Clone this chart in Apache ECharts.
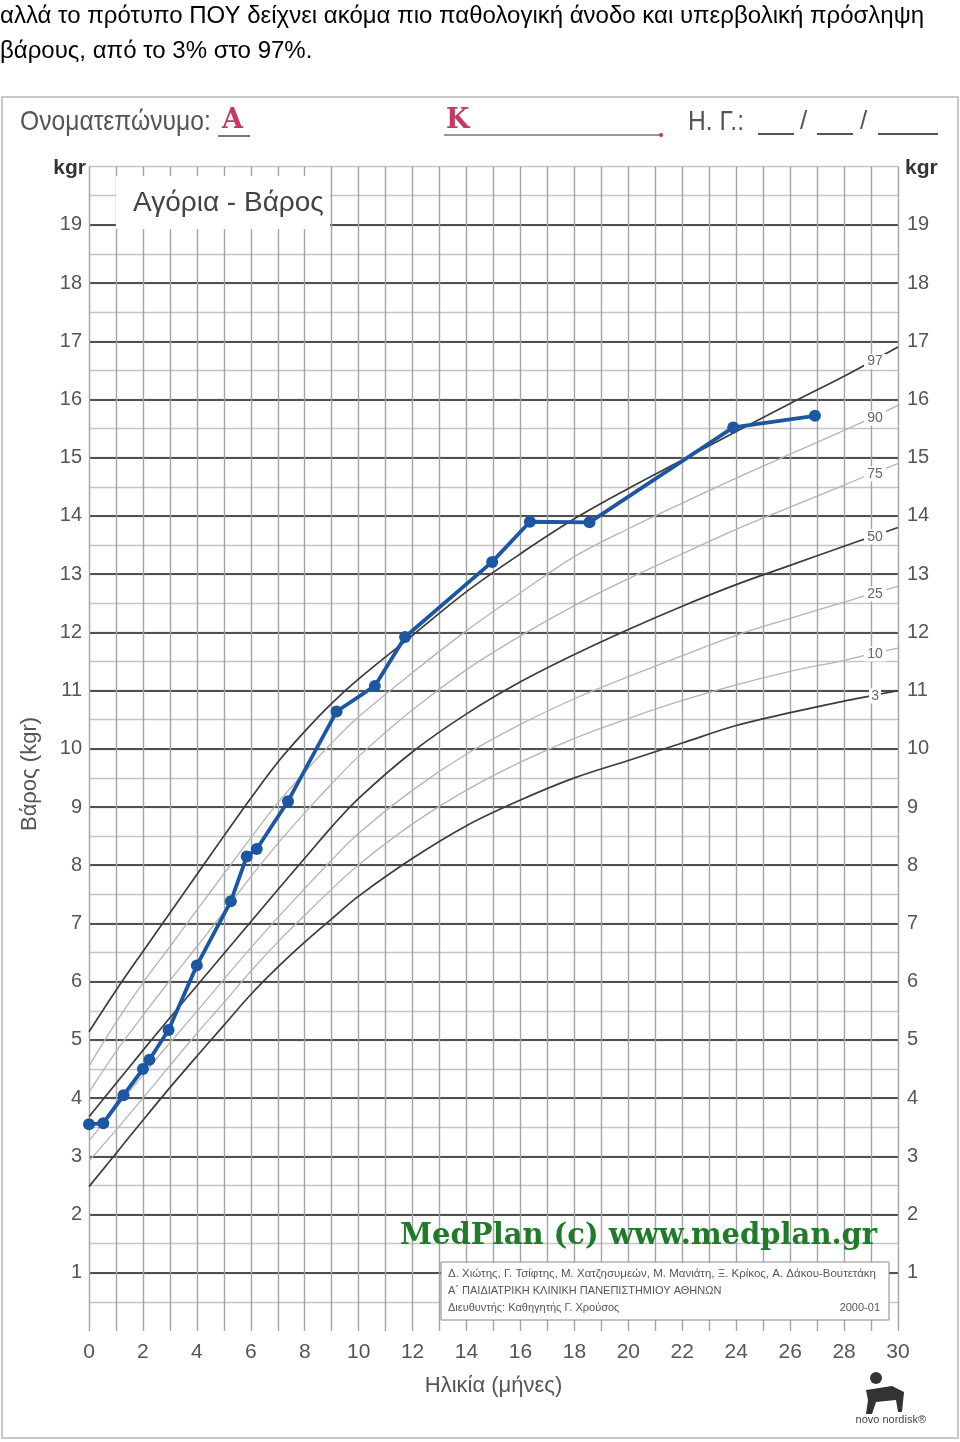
<!DOCTYPE html>
<html><head><meta charset="utf-8">
<script src="https://cdn.jsdelivr.net/npm/echarts@6/dist/echarts.min.js"></script>
<style>html,body{margin:0;padding:0;background:#fff}#c{width:960px;height:1442px}</style>
</head><body><div id="c"></div>
<script>
// ---- data ----
const curveAges = [0,1,2,3,4,5,6,7,8,9,10,12,14,16,18,20,22,24,26,28,29,30];
const p97 = [5.14,5.85,6.52,7.18,7.84,8.5,9.15,9.77,10.3,10.78,11.2,11.95,12.7,13.35,13.95,14.47,14.96,15.45,15.93,16.4,16.65,16.9];
const p90 = [4.55,5.3,5.98,6.6,7.23,7.85,8.47,9.07,9.6,10.1,10.55,11.31,12.03,12.68,13.3,13.78,14.22,14.65,15.06,15.47,15.68,15.9];
const p75 = [4.1,4.8,5.42,6.02,6.6,7.2,7.8,8.37,8.9,9.4,9.87,10.67,11.36,11.94,12.46,12.92,13.35,13.77,14.15,14.53,14.72,14.9];
const p50 = [3.68,4.25,4.82,5.38,5.93,6.48,7.03,7.58,8.12,8.66,9.15,9.95,10.6,11.15,11.62,12.05,12.45,12.82,13.15,13.48,13.64,13.8];
const p25 = [3.27,3.83,4.4,4.95,5.49,6.04,6.58,7.1,7.6,8.09,8.55,9.29,9.91,10.42,10.86,11.24,11.6,11.95,12.24,12.52,12.66,12.79];
const p10 = [2.92,3.45,4.0,4.56,5.11,5.64,6.18,6.68,7.14,7.59,8.01,8.71,9.29,9.77,10.18,10.52,10.83,11.1,11.33,11.52,11.63,11.73];
const p3  = [2.48,3.05,3.62,4.18,4.72,5.25,5.78,6.25,6.68,7.08,7.47,8.12,8.68,9.12,9.5,9.8,10.1,10.4,10.62,10.82,10.91,11.0];
const percentileNames = ['97','90','75','50','25','10','3'];
const labelAge = 29;

const childAges = [0,0.53,1.28,2.0,2.24,2.95,4.0,5.26,5.85,6.22,7.38,9.18,10.6,11.72,14.95,16.35,18.56,23.89,26.92];
const childWeights = [3.55,3.57,4.05,4.5,4.66,5.17,6.28,7.38,8.15,8.28,9.1,10.64,11.08,11.92,13.21,13.9,13.89,15.52,15.72];

const headerText1 = 'αλλά το πρότυπο ΠΟΥ δείχνει ακόμα πιο παθολογική άνοδο και υπερβολική πρόσληψη';
const headerText2 = 'βάρους, από το 3% στο 97%.';

// ---- chart ----
const FF = '"Liberation Sans", Arial, sans-serif';
const chart = echarts.init(document.getElementById('c'), null, {renderer:'canvas'});
const curves = [p97,p90,p75,p50,p25,p10,p3];
const dark = {'97':true,'50':true,'3':true};
const li = curveAges.indexOf(labelAge);

const curveSeries = curves.map((arr, k) => {
  const name = percentileNames[k];
  const isDark = !!dark[name];
  return {
    type:'line', name:'P'+name, xAxisIndex:0, yAxisIndex:1,
    data: curveAges.map((a,i)=>[a, arr[i]]),
    smooth: 0.35, symbol:'none', silent:true, z:3,
    lineStyle:{color: isDark ? '#3c3c3c' : '#b4b4b4', width: isDark ? 1.7 : 1.3},
    markPoint:{
      silent:true, symbol:'rect', symbolSize:[name.length>1?22:12, 15], symbolOffset:[4,0],
      itemStyle:{color:'#fff'},
      label:{show:true, formatter:name, color:'#666', fontSize:14, fontFamily:FF, position:'inside'},
      data:[{coord:[curveAges[li], arr[li]]}]
    }
  };
});

const option = {
  animation:false,
  backgroundColor:'#fff',
  grid:{left:89, right:62, top:166.6, bottom:111, containLabel:false},
  xAxis:[
    {type:'value', min:0, max:30, interval:1, axisLine:{show:false}, axisTick:{show:false}, axisLabel:{show:false},
     splitLine:{show:true, lineStyle:{color:'#a3a3a3', width:1.4}}},
    {type:'value', min:0, max:30, interval:2, position:'bottom', axisLine:{show:false}, axisTick:{show:false},
     splitLine:{show:false},
     axisLabel:{fontSize:21, color:'#555', margin:11, fontFamily:FF},
     name:'Ηλικία (μήνες)', nameLocation:'middle', nameGap:44, nameTextStyle:{fontSize:22, color:'#555', fontFamily:FF}}
  ],
  yAxis:[
    {type:'value', min:0, max:20, interval:0.5, axisLine:{show:false}, axisTick:{show:false}, axisLabel:{show:false},
     splitLine:{show:true, showMinLine:false, lineStyle:{color:'#c4c4c4', width:1.4}}},
    {type:'value', min:0, max:20, interval:1, position:'left', axisLine:{show:false}, axisTick:{show:false},
     splitLine:{show:true, showMinLine:false, showMaxLine:false, lineStyle:{color:'#505050', width:2}},
     axisLabel:{fontSize:20, color:'#555', margin:7, fontFamily:FF, formatter:v=>(v===0||v===20)?'':String(v)}},
    {type:'value', min:0, max:20, interval:1, position:'right', axisLine:{show:false}, axisTick:{show:false},
     splitLine:{show:false},
     axisLabel:{fontSize:20, color:'#555', margin:9, fontFamily:FF, formatter:v=>(v===0||v===20)?'':String(v)}}
  ],
  series: curveSeries.concat([{
    type:'line', name:'Βάρος', xAxisIndex:0, yAxisIndex:1, z:10,
    data: childAges.map((a,i)=>[a, childWeights[i]]),
    symbol:'circle', symbolSize:12, showAllSymbol:true,
    lineStyle:{color:'#1c57a2', width:3.8},
    itemStyle:{color:'#1c57a2'}
  }]),
  graphic:[
    {type:'text', z:100, style:{text:headerText1, x:0, y:16, font:'24px '+FF, fill:'#000', verticalAlign:'middle'}},
    {type:'text', z:100, style:{text:headerText2, x:0, y:51, font:'24px '+FF, fill:'#000', verticalAlign:'middle'}},
    {type:'rect', z:100, shape:{x:2, y:97, width:956, height:1341}, style:{fill:'none', stroke:'#c8c8c8', lineWidth:2}},
    {type:'text', z:100, x:20, y:122, scaleX:0.88, style:{text:'Ονοματεπώνυμο:', x:0, y:0, font:'28px '+FF, fill:'#555', verticalAlign:'middle'}},
    {type:'text', z:100, style:{text:'A', x:222, y:121, font:'bold 27px "DejaVu Serif", serif', fill:'#c43a5e', verticalAlign:'middle'}},
    {type:'line', z:100, shape:{x1:218, y1:136, x2:250, y2:136}, style:{stroke:'#777', lineWidth:2}},
    {type:'text', z:100, style:{text:'K', x:446, y:121, font:'bold 27px "DejaVu Serif", serif', fill:'#c43a5e', verticalAlign:'middle'}},
    {type:'line', z:100, shape:{x1:444, y1:135, x2:662, y2:135}, style:{stroke:'#777', lineWidth:1.5}},
    {type:'circle', z:100, shape:{cx:661, cy:135, r:2}, style:{fill:'#d03050'}},
    {type:'text', z:100, x:688, y:122, scaleX:0.88, style:{text:'Η. Γ.:', x:0, y:0, font:'28px '+FF, fill:'#555', verticalAlign:'middle'}},
    {type:'line', z:100, shape:{x1:758, y1:134, x2:794, y2:134}, style:{stroke:'#555', lineWidth:2}},
    {type:'text', z:100, style:{text:'/', x:800, y:122, font:'26px '+FF, fill:'#555', verticalAlign:'middle'}},
    {type:'line', z:100, shape:{x1:817, y1:134, x2:853, y2:134}, style:{stroke:'#555', lineWidth:2}},
    {type:'text', z:100, style:{text:'/', x:860, y:122, font:'26px '+FF, fill:'#555', verticalAlign:'middle'}},
    {type:'line', z:100, shape:{x1:878, y1:134, x2:938, y2:134}, style:{stroke:'#555', lineWidth:2}},
    {type:'text', z:100, style:{text:'kgr', x:86, y:168, font:'bold 21px '+FF, fill:'#333', verticalAlign:'middle', align:'right'}},
    {type:'text', z:100, style:{text:'kgr', x:905, y:168, font:'bold 21px '+FF, fill:'#333', verticalAlign:'middle'}},
    {type:'text', z:100, x:30, y:774, rotation:Math.PI/2, style:{text:'Βάρος (kgr)', x:0, y:0, font:'22px '+FF, fill:'#555', verticalAlign:'middle', align:'center'}},
    {type:'rect', z:90, shape:{x:116, y:176, width:214, height:53}, style:{fill:'#fff'}},
    {type:'text', z:100, style:{text:'Αγόρια - Βάρος', x:133, y:203, font:'28px '+FF, fill:'#444', verticalAlign:'middle'}},
    {type:'text', z:100, style:{text:'MedPlan (c) www.medplan.gr', x:400, y:1236, font:'bold 29px "DejaVu Serif", serif', fill:'#1f7a2a', verticalAlign:'middle'}},
    {type:'rect', z:90, shape:{x:441, y:1262, width:448, height:58}, style:{fill:'#fff', stroke:'#888', lineWidth:1}},
    {type:'text', z:100, style:{text:'Δ. Χιώτης, Γ. Τσίφτης, Μ. Χατζησυμεών, Μ. Μανιάτη, Ξ. Κρίκος, Α. Δάκου-Βουτετάκη', x:448, y:1274, font:'11.5px '+FF, fill:'#555', verticalAlign:'middle'}},
    {type:'text', z:100, style:{text:'Α΄ ΠΑΙΔΙΑΤΡΙΚΗ ΚΛΙΝΙΚΗ ΠΑΝΕΠΙΣΤΗΜΙΟΥ ΑΘΗΝΩΝ', x:448, y:1291, font:'11px '+FF, fill:'#555', verticalAlign:'middle'}},
    {type:'text', z:100, style:{text:'Διευθυντής: Καθηγητής Γ. Χρούσος', x:448, y:1308, font:'11px '+FF, fill:'#555', verticalAlign:'middle'}},
    {type:'text', z:100, style:{text:'2000-01', x:880, y:1308, font:'11px '+FF, fill:'#555', verticalAlign:'middle', align:'right'}},
    {type:'circle', z:100, shape:{cx:876, cy:1378, r:6}, style:{fill:'#333'}},
    {type:'polygon', z:100, shape:{points:[[866,1390],[892,1386],[904,1392],[902,1412],[898,1412],[896,1400],[876,1402],[872,1414],[866,1414],[868,1400]]}, style:{fill:'#333'}},
    {type:'text', z:100, style:{text:'novo nordisk®', x:926, y:1420, font:'11px '+FF, fill:'#444', verticalAlign:'middle', align:'right'}}
  ]
};
chart.setOption(option);
</script></body></html>
